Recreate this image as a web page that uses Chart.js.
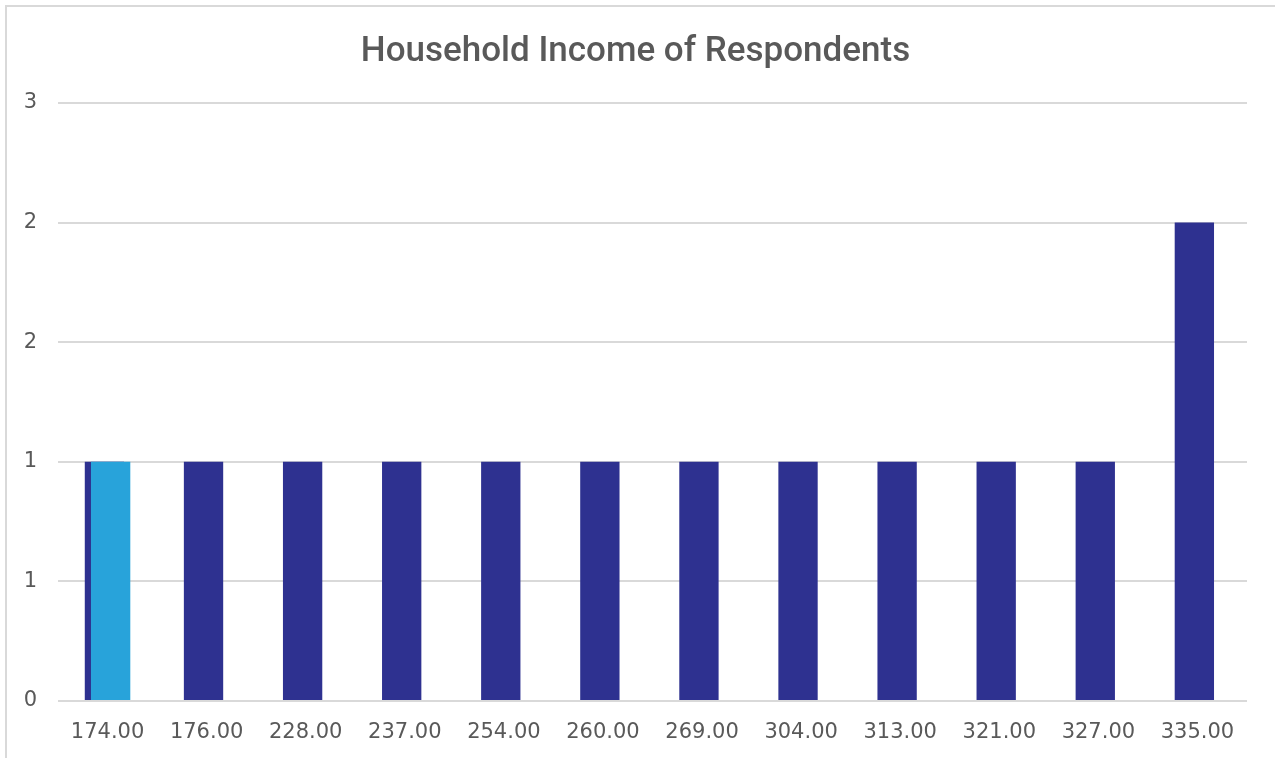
<!DOCTYPE html>
<html lang="en">

<head>
    <meta charset="UTF-8">
    <title>Household Income of Respondents</title>
    <script src="https://cdn.jsdelivr.net/npm/chart.js"></script>
    <style>
        html, body {
            margin: 0;
            padding: 0;
            background: #ffffff;
            overflow: hidden;
        }

        /* thin grey chart-area frame, only top and left edges fall inside the window */
        #frame {
            position: absolute;
            left: 5px;
            top: 5px;
            width: 1400px;
            height: 900px;
            border: 2px solid #d9d9d9;
        }

        #incomeChart {
            position: absolute;
            left: 0;
            top: 0;
        }
    </style>
</head>

<body>
    <div id="frame"></div>
    <canvas id="incomeChart" width="1275" height="758"></canvas>

    <script>
        // income brackets on the x axis
        const incomeLabels = ['174.00', '176.00', '228.00', '237.00', '254.00', '260.00',
            '269.00', '304.00', '313.00', '321.00', '327.00', '335.00'];
        // number of respondents per income
        const respondentCounts = [1, 1, 1, 1, 1, 1, 1, 1, 1, 1, 1, 2];
        // second series, only the first income has a value
        const highlightCounts = [1, null, null, null, null, null, null, null, null, null, null, null];
        // y axis range and step
        const yMin = 0;
        const yMax = 2.5;
        const yStep = 0.5;

        const textColor = '#595959';
        const gridColor = '#d9d9d9';

        // draw series in dataset order so the later one sits on top
        const drawSeriesInOrder = {
            id: 'drawSeriesInOrder',
            beforeDatasetsDraw(chart) {
                chart.getSortedVisibleDatasetMetas().forEach(meta => meta.controller.draw());
                return false;
            }
        };

        new Chart(document.getElementById('incomeChart'), {
            type: 'bar',
            data: {
                labels: incomeLabels,
                datasets: [{
                    label: 'Respondents',
                    data: respondentCounts,
                    backgroundColor: '#2e3190',
                    categoryPercentage: 0.125,
                    barPercentage: 6.35
                }, {
                    label: 'Highlight',
                    data: highlightCounts,
                    backgroundColor: '#28a3da',
                    categoryPercentage: 0.125,
                    barPercentage: 6.35
                }]
            },
            options: {
                responsive: false,
                animation: false,
                layout: {
                    padding: { left: 24, right: 28, top: 0, bottom: 0 }
                },
                plugins: {
                    legend: { display: false },
                    tooltip: { enabled: false },
                    title: {
                        display: true,
                        text: 'Household Income of Respondents',
                        color: textColor,
                        font: { family: 'Roboto', size: 35, weight: 500 },
                        padding: { top: 31, bottom: 30 }
                    }
                },
                scales: {
                    x: {
                        grid: { display: false },
                        border: { display: false },
                        afterFit(scale) { scale.height = 57; },
                        ticks: {
                            color: textColor,
                            font: { family: 'DejaVu Sans', size: 21 },
                            padding: 11,
                            maxRotation: 0,
                            autoSkip: false
                        }
                    },
                    y: {
                        min: yMin,
                        max: yMax,
                        border: { display: false },
                        grid: { color: gridColor, lineWidth: 2, drawTicks: false },
                        afterFit(scale) { scale.width = 34; },
                        ticks: {
                            stepSize: yStep,
                            color: textColor,
                            font: { family: 'DejaVu Sans', size: 21 },
                            padding: 21,
                            callback: value => Math.round(value).toString()
                        }
                    }
                }
            },
            plugins: [drawSeriesInOrder]
        });
    </script>
</body>

</html>
